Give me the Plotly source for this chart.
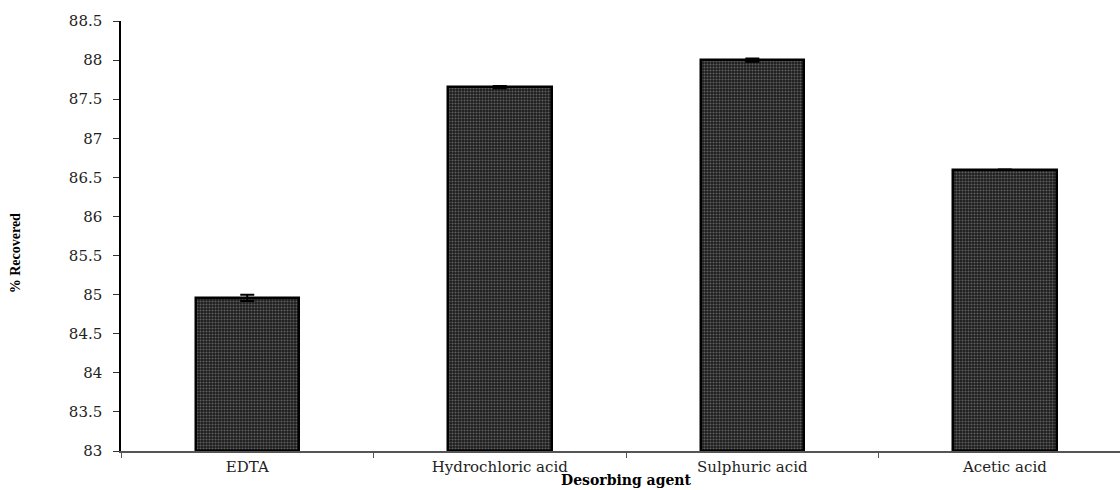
import plotly.graph_objects as go

categories = ["EDTA", "Hydrochloric acid", "Sulphuric acid", "Acetic acid"]
recovered = [84.96, 87.655, 88.0, 86.6]
errors = [0.04, 0.015, 0.02, 0.0]
y_ticks = [83, 83.5, 84, 84.5, 85, 85.5, 86, 86.5, 87, 87.5, 88, 88.5]
y_tick_labels = ["83", "83.5", "84", "84.5", "85", "85.5", "86", "86.5", "87", "87.5", "88", "88.5"]

fig = go.Figure()
fig.add_trace(go.Bar(
    x=categories,
    y=[v - 83 for v in recovered],
    base=83,
    width=0.41,
    marker=dict(
        color="#2a2a2a",
        line=dict(color="black", width=2.5),
        pattern=dict(shape=".", bgcolor="#1c1c1c", fgcolor="#a0a0a0", size=3, solidity=0.4, fillmode="overlay"),
    ),
    error_y=dict(type="data", array=errors, arrayminus=errors, visible=True,
                 color="black", thickness=2, width=7),
    hoverinfo="skip",
))

fig.update_layout(
    width=1120, height=490,
    margin=dict(l=121, r=0, t=21, b=39),
    plot_bgcolor="white", paper_bgcolor="white",
    showlegend=False,
    font=dict(family="DejaVu Serif", size=15, color="#222"),
    bargap=0,
)
fig.update_xaxes(
    type="category",
    range=[-0.5, 3.456],
    showline=True, linecolor="#555", linewidth=1.5,
    ticks="outside", tickson="boundaries", ticklen=5, tickcolor="#555",
    showgrid=False, zeroline=False,
    tickfont=dict(family="DejaVu Serif", size=15, color="#222"),
    ticklabelstandoff=1,
)
fig.update_yaxes(
    range=[83, 88.5],
    tickvals=y_ticks, ticktext=y_tick_labels,
    showline=True, linecolor="black", linewidth=1.5,
    ticks="outside", ticklen=6, tickcolor="#333",
    showgrid=False, zeroline=False,
    tickfont=dict(family="DejaVu Serif", size=15, color="#222"),
    ticklabelstandoff=8,
)
fig.add_annotation(
    text="<b>Desorbing agent</b>", xref="x", yref="paper", x=1.5, y=-0.068,
    showarrow=False, yanchor="middle", xanchor="center",
    font=dict(family="DejaVu Serif", size=14, color="black"),
)
fig.add_annotation(
    text="<b>% Recovered</b>", xref="paper", yref="paper", x=-0.106, y=0.46,
    showarrow=False, textangle=-90, xanchor="center", yanchor="middle",
    font=dict(family="Liberation Serif", size=14, color="black"),
)
fig.write_html("out.html")
